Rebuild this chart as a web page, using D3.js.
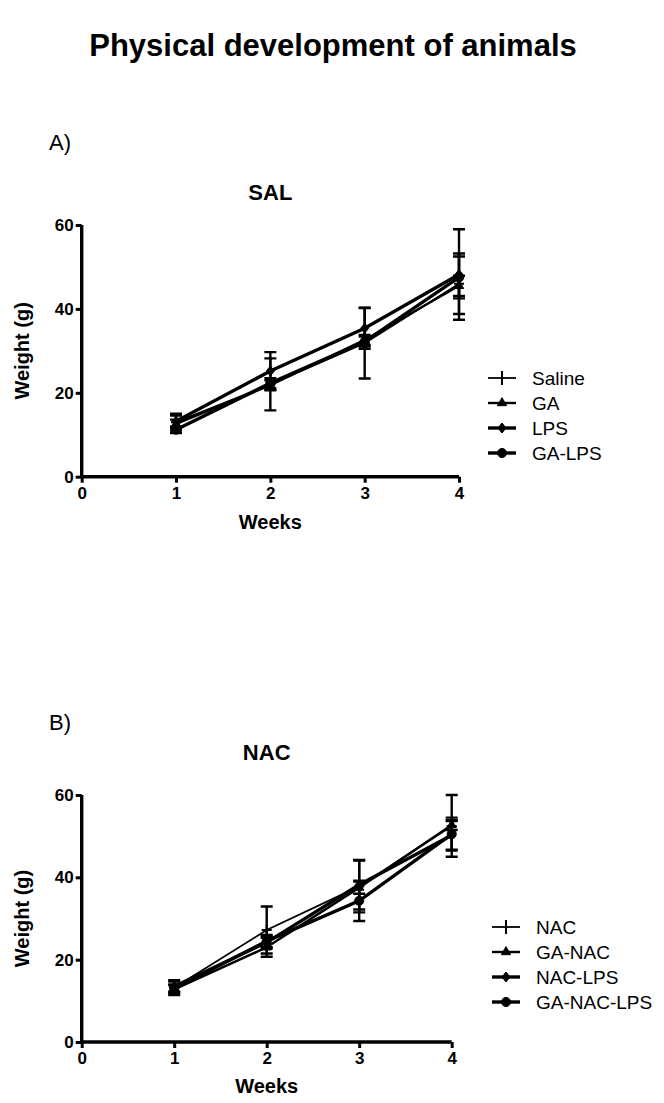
<!DOCTYPE html>
<html>
<head>
<meta charset="utf-8">
<script src="https://cdn.jsdelivr.net/npm/d3@7"></script>
<style>
html,body{margin:0;padding:0;background:#fff;}
svg{display:block;font-family:"Liberation Sans",Arial,sans-serif;}
</style>
</head>
<body>
<svg id="chart" width="664" height="1103"></svg>
<script>
// ---- data ----
const weeks = [1, 2, 3, 4];
const xTicks = [0, 1, 2, 3, 4];
const yTicks = [0, 20, 40, 60];

const salSeries = ["Saline", "GA", "LPS", "GA-LPS"];
const salMeans = [
  [13.0, 22.0, 31.8, 46.0],
  [12.6, 21.8, 32.6, 45.5],
  [13.2, 25.2, 35.4, 48.2],
  [11.2, 22.3, 32.2, 47.5]
];
const salErr = [
  [2.0, 6.2, 8.4, 7.2],
  [1.0, 1.2, 1.2, 2.4],
  [1.4, 4.5, 4.9, 10.8],
  [0.8, 1.2, 1.2, 5.0]
];

const nacSeries = ["NAC", "GA-NAC", "NAC-LPS", "GA-NAC-LPS"];
const nacMeans = [
  [13.2, 27.2, 37.8, 52.5],
  [12.8, 23.0, 37.5, 52.7],
  [13.5, 24.2, 38.2, 50.2],
  [13.0, 24.5, 34.3, 50.5]
];
const nacErr = [
  [1.8, 5.7, 6.3, 7.5],
  [1.0, 2.3, 1.5, 1.2],
  [1.2, 1.5, 6.0, 3.5],
  [1.0, 1.5, 4.9, 4.0]
];

const markers = ["plus", "triangle", "diamond", "circle"];
const lineWidths = [1.8, 2.4, 3.4, 3.4];

// ---- drawing ----
const svg = d3.select("#chart");

svg.append("text")
  .attr("x", 333).attr("y", 56)
  .attr("text-anchor", "middle")
  .attr("font-size", 31).attr("font-weight", "bold")
  .text("Physical development of animals");

function markerPath(type, size) {
  if (type === "plus") return `M${-size},0H${size}M0,${-size}V${size}`;
  if (type === "triangle") return d3.symbol(d3.symbolTriangle, size * size * 1.5)();
  if (type === "diamond") return `M0,${-size}L${size*0.8},0L0,${size}L${-size*0.8},0Z`;
  return d3.symbol(d3.symbolCircle, size * size * 2.6)();
}

function panel(opts) {
  const g = svg.append("g");
  const x = d3.scaleLinear().domain([0, 4]).range([opts.x0, opts.x1]);
  const y = d3.scaleLinear().domain([0, 60]).range([opts.y0, opts.y1]);

  g.append("text").attr("x", 49).attr("y", opts.letterY)
    .attr("font-size", 22).text(opts.letter);
  g.append("text").attr("x", (opts.x0 + opts.x1) / 2).attr("y", opts.titleY)
    .attr("text-anchor", "middle").attr("font-size", 22).attr("font-weight", "bold")
    .text(opts.title);

  const yAxis = d3.axisLeft(y).tickValues(yTicks).tickFormat(d3.format("d")).tickSize(6).tickPadding(2);
  const ya = g.append("g").attr("transform", `translate(${opts.x0},0)`).call(yAxis);
  const xAxis = d3.axisBottom(x).tickValues(xTicks).tickFormat(d3.format("d")).tickSize(6).tickPadding(4);
  const xa = g.append("g").attr("transform", `translate(0,${opts.y0})`).call(xAxis);
  [ya, xa].forEach(a => {
    a.select(".domain").attr("stroke", "#000").attr("stroke-width", 3.4);
    a.selectAll(".tick line").attr("stroke", "#000").attr("stroke-width", 3);
    a.selectAll(".tick text").attr("fill", "#000").attr("font-size", 17)
      .attr("font-weight", "bold").attr("font-family", '"Liberation Sans",Arial,sans-serif');
  });
  ya.select(".domain").attr("d", `M0,${opts.y0 + 1.5}V${opts.y1}`);
  xa.select(".domain").attr("d", `M${opts.x0 - 1.5},0H${opts.x1}`);

  g.append("text")
    .attr("transform", `translate(${opts.yLabelX},${(opts.y0 + opts.y1) / 2}) rotate(-90)`)
    .attr("text-anchor", "middle").attr("font-size", 20).attr("font-weight", "bold")
    .text("Weight (g)");
  g.append("text").attr("x", (opts.x0 + opts.x1) / 2).attr("y", opts.y0 + opts.weeksDy)
    .attr("text-anchor", "middle").attr("font-size", 20).attr("font-weight", "bold")
    .text("Weeks");

  const line = d3.line().x((d, i) => x(weeks[i])).y(d => y(d));

  opts.names.forEach((name, s) => {
    const means = opts.means[s], errs = opts.errs[s];
    means.forEach((m, i) => {
      const cx = x(weeks[i]);
      g.append("path")
        .attr("d", `M${cx},${y(m - errs[i])}V${y(m + errs[i])}M${cx - 6},${y(m - errs[i])}H${cx + 6}M${cx - 6},${y(m + errs[i])}H${cx + 6}`)
        .attr("stroke", "#000").attr("stroke-width", 2.4).attr("fill", "none");
    });
    g.append("path").datum(means).attr("d", line)
      .attr("fill", "none").attr("stroke", "#000").attr("stroke-width", lineWidths[s]);
    means.forEach((m, i) => {
      g.append("path")
        .attr("transform", `translate(${x(weeks[i])},${y(m)})`)
        .attr("d", markerPath(markers[s], 5))
        .attr("fill", "#000").attr("stroke", "#000").attr("stroke-width", markers[s] === "plus" ? 2 : 1);
    });

    const ly = opts.legendY[s];
    g.append("line").attr("x1", opts.legX).attr("x2", opts.legX + 28)
      .attr("y1", ly).attr("y2", ly).attr("stroke", "#000").attr("stroke-width", lineWidths[s]);
    g.append("path")
      .attr("transform", `translate(${opts.legX + 14},${ly})`)
      .attr("d", markers[s] === "plus" ? `M0,-7V7` : markerPath(markers[s], 5))
      .attr("fill", "#000").attr("stroke", "#000").attr("stroke-width", markers[s] === "plus" ? 2 : 1);
    g.append("text").attr("x", opts.legX + 44).attr("y", ly + 7)
      .attr("font-size", 19).text(name);
  });
}

panel({
  letter: "A)", letterY: 150, title: "SAL", titleY: 200,
  x0: 81.7, x1: 459, y0: 476.7, y1: 225,
  yLabelX: 29, weeksDy: 52,
  names: salSeries, means: salMeans, errs: salErr,
  legX: 488, legendY: [378, 403, 428, 453]
});

panel({
  letter: "B)", letterY: 730, title: "NAC", titleY: 760,
  x0: 81.7, x1: 451.7, y0: 1042, y1: 795,
  yLabelX: 29, weeksDy: 51,
  names: nacSeries, means: nacMeans, errs: nacErr,
  legX: 492, legendY: [927, 952, 977, 1002]
});
</script>
</body>
</html>
